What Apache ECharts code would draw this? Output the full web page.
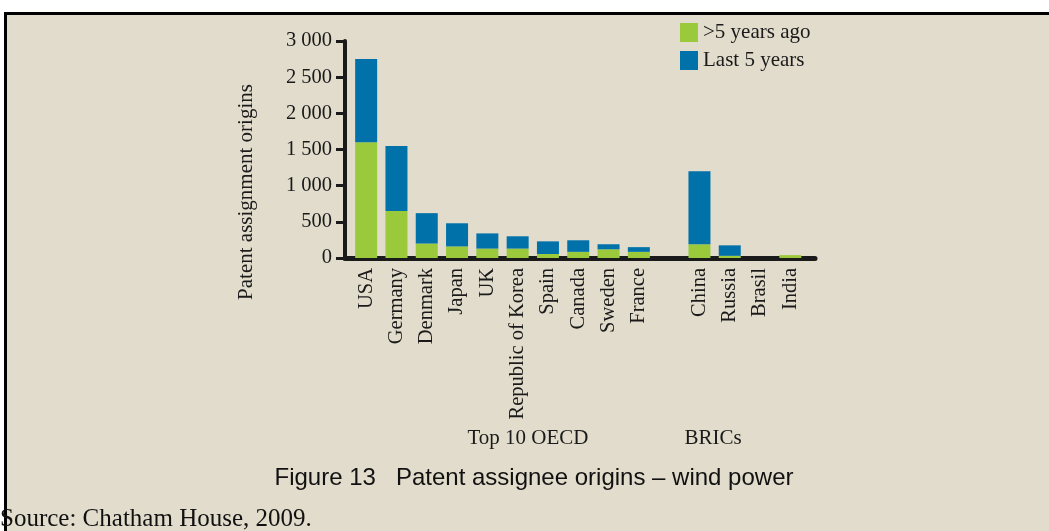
<!DOCTYPE html>
<html>
<head>
<meta charset="utf-8">
<script src="https://cdn.jsdelivr.net/npm/echarts@6/dist/echarts.min.js"></script>
<style>
  html, body { margin: 0; padding: 0; background: #fff; }
</style>
</head>
<body>
<div id="chart" style="width: 1049px;height: 531px"></div>
<script>
// countries (blank slot separates OECD and BRICs)
var countries = ['USA', 'Germany', 'Denmark', 'Japan', 'UK', 'Republic of Korea', 'Spain', 'Canada', 'Sweden', 'France', '', 'China', 'Russia', 'Brasil', 'India']
var olderData = [1600, 650, 200, 160, 130, 130, 55, 85, 120, 85, 0, 190, 30, 0, 40]
var recentData = [1150, 900, 420, 320, 210, 170, 175, 160, 70, 65, 0, 1010, 145, 0, 0]
var yTicks = [0, 500, 1000, 1500, 2000, 2500, 3000]

var serif = '"Liberation Serif", "DejaVu Serif", serif'
var green = '#9aca3c'
var blue = '#0071a9'

function fmt (v) {
  // thousands with a space, like the figure
  return String(v).replace(/\B(?=(\d{3})+(?!\d))/g, ' ')
}

var myChart = echarts.init(document.getElementById('chart'))
var option = {
  backgroundColor: '#fff',
  animation: false,
  graphic: [
    { type: 'rect', shape: { x: 5, y: 12, width: 1044, height: 519 }, style: { fill: '#e1dccb' }, z: -10 },
    { type: 'rect', shape: { x: 5, y: 12, width: 1044, height: 3 }, style: { fill: '#000' } },
    { type: 'rect', shape: { x: 4, y: 12, width: 3, height: 519 }, style: { fill: '#000' } },
    {
      type: 'text', x: 246, y: 192, rotation: Math.PI / 2,
      style: { text: 'Patent assignment origins', font: '21px ' + serif, fill: '#1a1a1a', align: 'center', verticalAlign: 'middle' }
    },
    { type: 'text', x: 528, y: 438, style: { text: 'Top 10 OECD', font: '21px ' + serif, fill: '#1a1a1a', align: 'center', verticalAlign: 'middle' } },
    { type: 'text', x: 713, y: 438, style: { text: 'BRICs', font: '21px ' + serif, fill: '#1a1a1a', align: 'center', verticalAlign: 'middle' } },
    { type: 'text', x: 534, y: 478, style: { text: 'Figure 13   Patent assignee origins \u2013 wind power', font: '24px "Liberation Sans", Arial, sans-serif', fill: '#111', align: 'center', verticalAlign: 'middle' } },
    { type: 'text', x: 0, y: 519, style: { text: 'Source: Chatham House, 2009.', font: '25px ' + serif, fill: '#111', align: 'left', verticalAlign: 'middle' } }
  ],
  legend: {
    orient: 'vertical',
    left: 675,
    top: 17,
    itemWidth: 18,
    itemHeight: 19,
    itemGap: 7,
    icon: 'rect',
    textStyle: { fontFamily: serif, fontSize: 21, color: '#1a1a1a' },
    data: ['>5 years ago', 'Last 5 years']
  },
  grid: [
    { left: 345, top: 41, width: 470, height: 217 },
    { left: 351, top: 41, width: 454.5, height: 217 }
  ],
  xAxis: [
    {
      gridIndex: 0,
      type: 'category',
      data: [''],
      axisLine: { lineStyle: { color: '#1a1a1a', width: 5 } },
      axisTick: { show: false },
      axisLabel: { show: false }
    },
    {
      gridIndex: 1,
      type: 'category',
      data: countries,
      axisLine: { show: false },
      axisTick: { show: false },
      axisLabel: {
        rotate: 90,
        interval: 0,
        margin: 10,
        fontFamily: serif,
        fontSize: 20.5,
        color: '#1a1a1a'
      }
    }
  ],
  yAxis: [
    {
      gridIndex: 0,
      type: 'value',
      min: 0,
      max: 3000,
      interval: 500,
      splitLine: { show: false },
      axisLine: { show: true, lineStyle: { color: '#1a1a1a', width: 4 } },
      axisTick: { show: true, length: 9, lineStyle: { color: '#1a1a1a', width: 3 } },
      axisLabel: {
        margin: 13,
        fontFamily: serif,
        fontSize: 20.5,
        color: '#1a1a1a',
        formatter: function (v) { return yTicks.indexOf(v) >= 0 ? fmt(v) : '' }
      }
    },
    {
      gridIndex: 1,
      type: 'value',
      min: 0,
      max: 3000,
      interval: 500,
      show: false,
      splitLine: { show: false }
    }
  ],
  series: [
    {
      name: '>5 years ago',
      type: 'bar',
      stack: 'total',
      xAxisIndex: 1,
      yAxisIndex: 1,
      barWidth: 22,
      data: olderData,
      itemStyle: { color: green }
    },
    {
      name: 'Last 5 years',
      type: 'bar',
      stack: 'total',
      xAxisIndex: 1,
      yAxisIndex: 1,
      barWidth: 22,
      data: recentData,
      itemStyle: { color: blue }
    }
  ]
}
myChart.setOption(option)
</script>
</body>
</html>
